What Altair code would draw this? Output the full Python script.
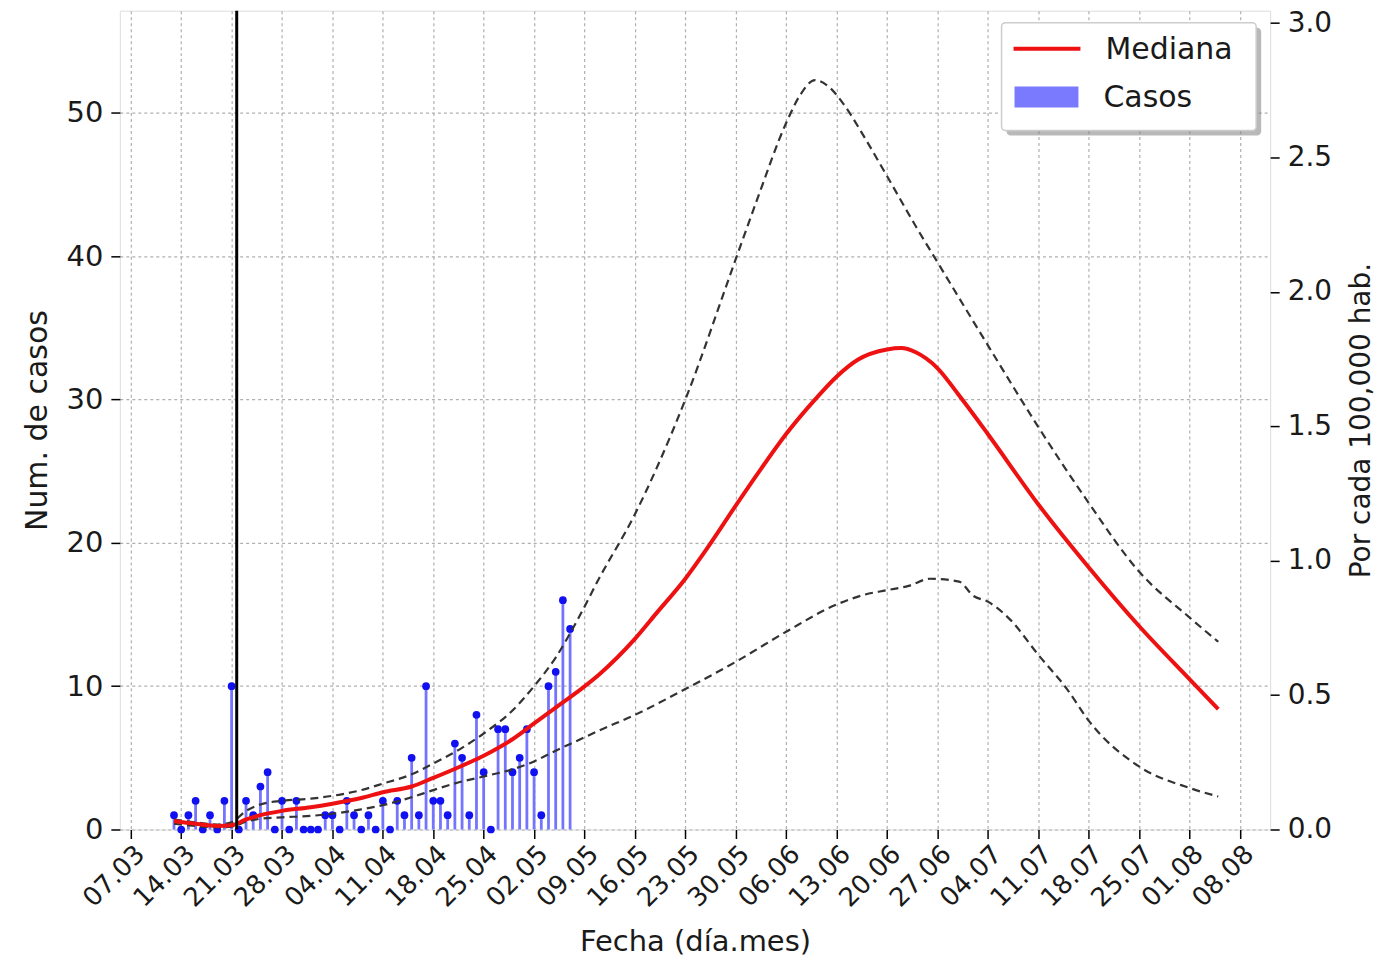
import altair as alt
import pandas as pd

# ---------------- data ----------------
CASE_DATES = pd.date_range("2020-03-13", "2020-05-07", freq="D").strftime("%Y-%m-%d").tolist()
CASES = [1, 0, 1, 2, 0, 1, 0, 2, 10, 0, 2, 1, 3, 4, 0, 2, 0, 2, 0,
         0, 0, 1, 1, 0, 2, 1, 0, 1, 0, 2, 0, 2, 1, 5, 1, 10, 2, 2, 1, 6, 5, 1, 8, 4, 0, 7, 7, 4, 5,
         7, 4, 1, 10, 11, 16, 14]

MED_DATES = ["2020-03-13", "2020-03-16", "2020-03-19", "2020-03-21", "2020-03-23", "2020-03-25",
             "2020-03-28", "2020-04-01", "2020-04-04", "2020-04-08", "2020-04-11", "2020-04-15",
             "2020-04-18", "2020-04-22", "2020-04-25", "2020-04-29", "2020-05-02", "2020-05-05",
             "2020-05-08", "2020-05-11", "2020-05-16", "2020-05-19", "2020-05-23", "2020-05-26",
             "2020-05-30", "2020-06-02", "2020-06-06", "2020-06-10", "2020-06-13", "2020-06-16",
             "2020-06-20", "2020-06-22", "2020-06-24", "2020-06-27", "2020-06-30", "2020-07-04",
             "2020-07-11", "2020-07-18", "2020-07-25", "2020-08-01", "2020-08-05"]
MEDIANA = [0.6, 0.4, 0.25, 0.3, 0.7, 1.0, 1.3, 1.55, 1.8, 2.2, 2.6, 3.0, 3.6, 4.45, 5.15, 6.3,
           7.4, 8.5, 9.6, 10.8, 13.3, 15.1, 17.5, 19.6, 22.6, 24.8, 27.6, 30.0, 31.6, 32.8, 33.5,
           33.6, 33.3, 32.2, 30.3, 27.6, 22.7, 18.3, 14.2, 10.5, 8.4]

UP_DATES = ["2020-03-13", "2020-03-16", "2020-03-19", "2020-03-21", "2020-03-23", "2020-03-25",
            "2020-03-28", "2020-04-01", "2020-04-04", "2020-04-08", "2020-04-11", "2020-04-15",
            "2020-04-18", "2020-04-22", "2020-04-25", "2020-04-29", "2020-05-02", "2020-05-05",
            "2020-05-08", "2020-05-11", "2020-05-16", "2020-05-19", "2020-05-23", "2020-05-30",
            "2020-06-02", "2020-06-06", "2020-06-08", "2020-06-10", "2020-06-12", "2020-06-14",
            "2020-06-17", "2020-06-20", "2020-06-24", "2020-06-27", "2020-07-04", "2020-07-11",
            "2020-07-18", "2020-07-25", "2020-08-01", "2020-08-05"]
SUPERIOR = [0.7, 0.5, 0.35, 0.5, 1.3, 1.75, 2.0, 2.15, 2.35, 2.75, 3.2, 3.85, 4.6, 5.7, 6.7, 8.3,
            10.0, 12.0, 14.6, 17.5, 22.0, 25.2, 30.0, 39.8, 44.0, 49.3, 51.3, 52.3, 51.8, 50.6,
            48.2, 45.6, 42.1, 39.6, 33.8, 28.1, 22.8, 18.0, 14.8, 13.1]

LOW_DATES = ["2020-03-13", "2020-03-16", "2020-03-19", "2020-03-21", "2020-03-23", "2020-03-25",
             "2020-03-28", "2020-04-01", "2020-04-04", "2020-04-08", "2020-04-11", "2020-04-15",
             "2020-04-18", "2020-04-22", "2020-04-25", "2020-04-29", "2020-05-02", "2020-05-05",
             "2020-05-08", "2020-05-11", "2020-05-16", "2020-05-23", "2020-05-30", "2020-06-06",
             "2020-06-13", "2020-06-17", "2020-06-20", "2020-06-23", "2020-06-26", "2020-06-30",
             "2020-07-02", "2020-07-04", "2020-07-07", "2020-07-11", "2020-07-15", "2020-07-18",
             "2020-07-25", "2020-08-01", "2020-08-05"]
INFERIOR = [0.4, 0.25, 0.15, 0.2, 0.55, 0.75, 0.85, 0.95, 1.1, 1.4, 1.7, 2.25, 2.75, 3.35, 3.7,
            4.2, 4.75, 5.5, 6.2, 6.9, 8.0, 9.8, 11.7, 13.8, 15.7, 16.4, 16.7, 17.0, 17.5, 17.3,
            16.3, 15.9, 14.7, 12.2, 9.8, 7.6, 4.4, 2.9, 2.3]

VLINE_DATE = "2020-03-21T17:00:00Z"

TICK_DATES = ["2020-03-07", "2020-03-14", "2020-03-21", "2020-03-28", "2020-04-04", "2020-04-11",
              "2020-04-18", "2020-04-25", "2020-05-02", "2020-05-09", "2020-05-16", "2020-05-23",
              "2020-05-30", "2020-06-06", "2020-06-13", "2020-06-20", "2020-06-27", "2020-07-04",
              "2020-07-11", "2020-07-18", "2020-07-25", "2020-08-01", "2020-08-08"]
X_DOMAIN = ["2020-03-05T11:30:00Z", "2020-08-12T05:00:00Z"]
Y_MAX = 57.14          # left axis top (Num. de casos)
Y2_MAX = 3.046         # right axis top (por cada 100,000 hab.)
LEFT_TICKS = [0, 10, 20, 30, 40, 50]
RIGHT_TICKS = [0.0, 0.5, 1.0, 1.5, 2.0, 2.5, 3.0]
LEGEND_LABELS = ["Mediana", "Casos"]


def ms(s):
    t = pd.Timestamp(s)
    if t.tzinfo is None:
        t = t.tz_localize("UTC")
    return int(t.timestamp() * 1000)


tick_ms = [ms(t) for t in TICK_DATES]
dom_ms = [ms(t) for t in X_DOMAIN]

cases_df = pd.DataFrame({"fecha": CASE_DATES, "casos": CASES})
med_df = pd.DataFrame({"fecha": MED_DATES, "v": MEDIANA})
up_df = pd.DataFrame({"fecha": UP_DATES, "v": SUPERIOR})
low_df = pd.DataFrame({"fecha": LOW_DATES, "v": INFERIOR})
vline_df = pd.DataFrame({"fecha": [VLINE_DATE]})

FONT = "DejaVu Sans"
W, H = 1152, 820
TXT = "#1a1a1a"

xscale = alt.Scale(type="utc", domain=dom_ms, nice=False)
yscale = alt.Scale(domain=[0, Y_MAX], nice=False, zero=True)

x_axis = alt.Axis(
    values=tick_ms, labelExpr="utcFormat(datum.value, '%d.%m')", labelAngle=315,
    labelAlign="right", labelBaseline="top", labelFontSize=26, labelPadding=2,
    labelOverlap=False, labelFlush=False,
    title="Fecha (día.mes)", titleFontSize=29, titleFontWeight="normal", titlePadding=16,
    grid=True, gridColor="#b0b0b0", gridDash=[3, 3], gridWidth=1.2,
    tickColor="black", tickSize=9, tickWidth=1.5, domain=False, labelColor=TXT,
    titleColor=TXT, labelFont=FONT, titleFont=FONT,
)
y_axis = alt.Axis(
    values=LEFT_TICKS, title="Num. de casos", titleFontSize=30, titleFontWeight="normal",
    labelFontSize=29, labelPadding=8, titlePadding=14, grid=True, gridColor="#b0b0b0",
    gridDash=[3, 3], gridWidth=1.2, tickColor="black", tickSize=9, tickWidth=1.5, domain=False,
    labelColor=TXT, titleColor=TXT, labelFont=FONT, titleFont=FONT,
)
X = alt.X("fecha:T", scale=xscale, axis=x_axis)

stems = alt.Chart(cases_df).mark_rule(color="#7474ff", strokeWidth=2.8).encode(
    x=X, y=alt.Y("casos:Q", scale=yscale, axis=y_axis), y2=alt.datum(0)
)
dots = alt.Chart(cases_df).mark_circle(color="#1010f0", size=60, opacity=1).encode(
    x=alt.X("fecha:T", scale=xscale), y=alt.Y("casos:Q", scale=yscale)
)
upper = alt.Chart(up_df).mark_line(color="#333333", strokeWidth=2.2, strokeDash=[8, 5],
                                   interpolate="monotone").encode(
    x=alt.X("fecha:T", scale=xscale), y=alt.Y("v:Q", scale=yscale)
)
lower = alt.Chart(low_df).mark_line(color="#333333", strokeWidth=2.2, strokeDash=[8, 5],
                                    interpolate="monotone").encode(
    x=alt.X("fecha:T", scale=xscale), y=alt.Y("v:Q", scale=yscale)
)
median = alt.Chart(med_df).mark_line(color="#ee1111", strokeWidth=4,
                                     interpolate="monotone").encode(
    x=alt.X("fecha:T", scale=xscale), y=alt.Y("v:Q", scale=yscale)
)
vline = alt.Chart(vline_df).mark_rule(color="black", strokeWidth=3).encode(
    x=alt.X("fecha:T", scale=xscale)
)

# legend box (matplotlib-style with shadow)
one = pd.DataFrame({"a": [0]})
shadow = alt.Chart(one).mark_rect(color="#808080", opacity=0.55, cornerRadius=4).encode(
    x=alt.value(888), x2=alt.value(1143), y=alt.value(17), y2=alt.value(125)
)
box = alt.Chart(one).mark_rect(fill="white", stroke="#cccccc", strokeWidth=1.5,
                               cornerRadius=4, opacity=1).encode(
    x=alt.value(883), x2=alt.value(1138), y=alt.value(12), y2=alt.value(120)
)
leg_line = alt.Chart(one).mark_rule(color="#ee1111", strokeWidth=4).encode(
    x=alt.value(895), x2=alt.value(962), y=alt.value(38)
)
leg_patch = alt.Chart(one).mark_rect(color="#7a7aff", opacity=1).encode(
    x=alt.value(896), x2=alt.value(960), y=alt.value(76), y2=alt.value(97)
)
leg_txt1 = alt.Chart(one).mark_text(text=LEGEND_LABELS[0], align="left", baseline="middle",
                                    fontSize=30, font=FONT, color=TXT).encode(
    x=alt.value(987), y=alt.value(39)
)
leg_txt2 = alt.Chart(one).mark_text(text=LEGEND_LABELS[1], align="left", baseline="middle",
                                    fontSize=30, font=FONT, color=TXT).encode(
    x=alt.value(985), y=alt.value(87)
)

# right axis (per 100,000 inhabitants)
right_df = pd.DataFrame({"fecha": [CASE_DATES[0]], "pc": [0.0]})
right = alt.Chart(right_df).mark_point(opacity=0).encode(
    x=alt.X("fecha:T", scale=xscale),
    y=alt.Y("pc:Q", scale=alt.Scale(domain=[0, Y2_MAX], nice=False),
            axis=alt.Axis(orient="right", values=RIGHT_TICKS, format=".1f",
                          title="Por cada 100,000 hab.", titleFontSize=28, titleAngle=270,
                          titleX=91, titleY=H / 2, titleAlign="center",
                          titleBaseline="middle",
                          titleFontWeight="normal", labelFontSize=28, labelPadding=8,
                          grid=False, tickColor="black", tickSize=9,
                          tickWidth=1.5, domain=False, labelColor=TXT, titleColor=TXT,
                          labelFont=FONT, titleFont=FONT)),
)

main = alt.layer(stems, dots, upper, lower, median, vline, shadow, box, leg_line, leg_patch,
                 leg_txt1, leg_txt2)

chart = alt.layer(main, right).resolve_scale(y="independent").properties(
    width=W, height=H,
    autosize=alt.AutoSizeParams(type="none"),
    padding={"left": 112, "top": 2, "right": 108, "bottom": 130},
).configure_view(stroke="black", strokeWidth=2).configure(font=FONT)

chart.save("out.html", embed_options={"renderer": "svg", "actions": False})
